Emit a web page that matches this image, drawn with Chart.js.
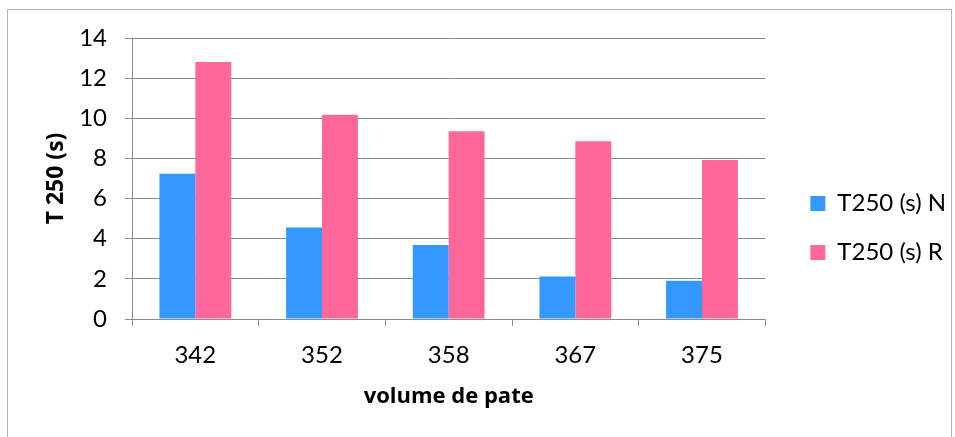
<!DOCTYPE html>
<html>
<head>
<meta charset="utf-8">
<script src="https://cdn.jsdelivr.net/npm/chart.js@4/dist/chart.umd.min.js"></script>
<style>
  html, body { margin: 0; padding: 0; background: #fff; }
  #wrap { position: relative; width: 955px; height: 437px; overflow: hidden; }
  #frame { position: absolute; left: 7px; top: 9px; width: 945px; height: 440px; border: 1px solid #b4b4b4; box-sizing: border-box; pointer-events: none; }
  canvas { position: absolute; left: 0; top: 0; }
</style>
</head>
<body>
<div id="wrap">
  <canvas id="c" width="955" height="437"></canvas>
  <div id="frame"></div>
</div>
<script>
const categories = ["342", "352", "358", "367", "375"];
const seriesN = [7.24, 4.56, 3.69, 2.12, 1.91];
const seriesR = [12.8, 10.18, 9.35, 8.85, 7.92];
const seriesNames = ["T250 (s) N", "T250 (s) R"];
const yTicks = [0, 2, 4, 6, 8, 10, 12, 14];
const yTitle = "T 250 (s)";
const xTitle = "volume de pate";

const FONT = "Lato, 'Open Sans', sans-serif";
const TFONT = "'Open Sans', Lato, sans-serif";
const grid = "#8c8c8c";

// give the legend a little extra room on its right so its text is not clipped
const legendRoom = {
  id: "legendRoom",
  beforeLayout(chart) {
    const lg = chart.legend;
    if (lg && !lg._roomPatched) {
      const orig = lg.fit;
      lg.fit = function () { orig.call(this); this.width += 14; };
      lg._roomPatched = true;
    }
  }
};

new Chart(document.getElementById("c"), {
  type: "bar",
  data: {
    labels: categories,
    datasets: [
      { label: seriesNames[0], data: seriesN, backgroundColor: "#3399FF", borderWidth: 0, categoryPercentage: 0.567, barPercentage: 1.0 },
      { label: seriesNames[1], data: seriesR, backgroundColor: "#FF6699", borderWidth: 0, categoryPercentage: 0.567, barPercentage: 1.0 }
    ]
  },
  plugins: [legendRoom],
  options: {
    responsive: false,
    animation: false,
    devicePixelRatio: 1,
    layout: { padding: { left: 21, right: 0, top: 38, bottom: 19 } },
    plugins: {
      tooltip: { enabled: false },
      legend: {
        position: "right",
        align: "center",
        labels: {
          font: { family: FONT, size: 24 },
          color: "#000",
          boxWidth: 15,
          boxHeight: 15,
          padding: 25
        }
      }
    },
    scales: {
      x: {
        offset: true,
        afterFit: (s) => { s.height = 99; },
        grid: { display: true, drawOnChartArea: false, drawTicks: true, tickLength: 7, color: grid, offset: true },
        border: { display: true, color: grid, width: 1 },
        ticks: { font: { family: FONT, size: 24 }, color: "#000", padding: 15 },
        title: { display: true, text: xTitle, font: { family: TFONT, size: 22, weight: "bold" }, color: "#000", padding: { top: 8, bottom: 8 } }
      },
      y: {
        min: 0, max: 14,
        afterBuildTicks: (s) => { s.ticks = yTicks.map(v => ({ value: v })); },
        afterFit: (s) => { s.width = 111; },
        ticks: { font: { family: FONT, size: 24 }, color: "#000", padding: 18 },
        grid: { color: grid, lineWidth: 1, tickLength: 7, drawTicks: true },
        border: { display: true, color: grid, width: 1 },
        title: { display: true, text: yTitle, font: { family: TFONT, size: 23, weight: "bold" }, color: "#000", padding: { top: 22, bottom: 4 } }
      },
      gap: {
        position: "right",
        display: true,
        grid: { display: false },
        border: { display: false },
        ticks: { display: false },
        afterFit: (s) => { s.width = 20; }
      }
    }
  }
});
</script>
</body>
</html>
